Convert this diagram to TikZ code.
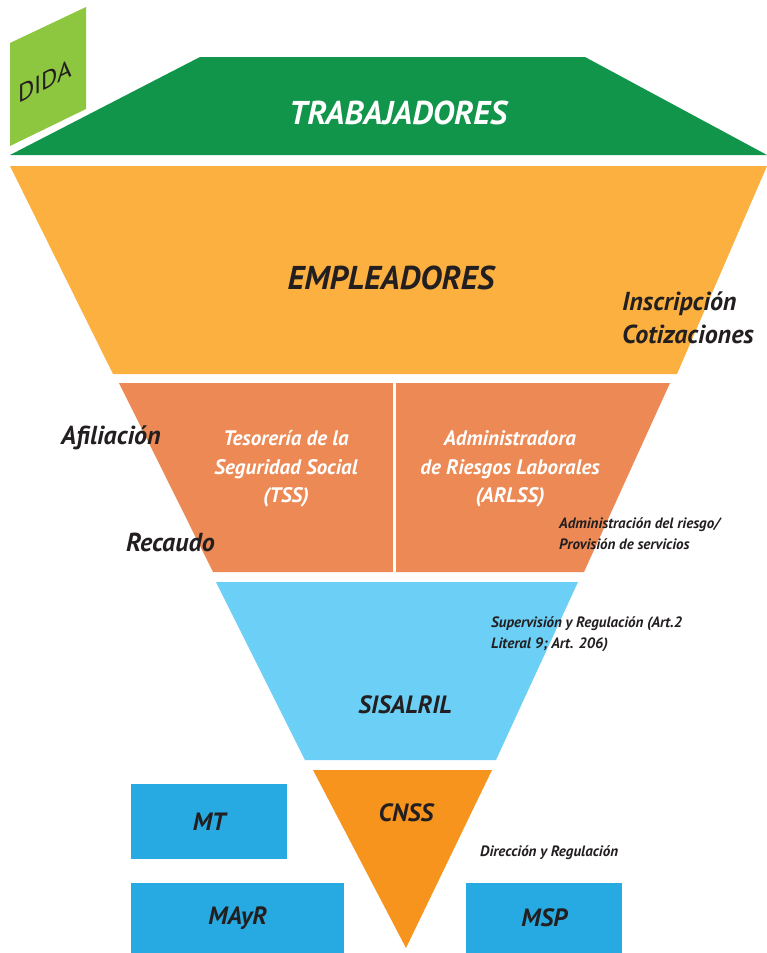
\documentclass[tikz,border=0pt]{standalone}
\usepackage{fontspec}
\setmainfont{PT Sans}
\definecolor{didagreen}{HTML}{8DC63F}
\definecolor{trabgreen}{HTML}{10954A}
\definecolor{emplyellow}{HTML}{FBB040}
\definecolor{tssorange}{HTML}{EC8954}
\definecolor{sisablue}{HTML}{6CCFF6}
\definecolor{cnssorange}{HTML}{F7941D}
\definecolor{boxblue}{HTML}{27AAE1}
\definecolor{inkdark}{HTML}{231F20}

\tikzstyle{layer}=[draw=none]
\tikzstyle{bigtitle}=[font=\bfseries\itshape\fontsize{33}{36}\selectfont, inner sep=0pt]
\tikzstyle{midtitle}=[font=\bfseries\itshape\fontsize{25}{28}\selectfont, text=inkdark, inner sep=0pt]
\tikzstyle{body}=[font=\bfseries\itshape\fontsize{21}{28.5}\selectfont, text=white, align=center, inner sep=0pt]
\tikzstyle{sidelabel}=[font=\bfseries\itshape\fontsize{26}{33}\selectfont, text=inkdark, anchor=west, align=left, inner sep=0pt]
\tikzstyle{note}=[font=\bfseries\itshape\fontsize{15}{21}\selectfont, text=inkdark, anchor=west, align=left, inner sep=0pt]

\begin{document}
\begin{tikzpicture}[x=1pt, y=-1pt]
    \useasboundingbox (0,0) rectangle (767,953);
    % First we draw the layers of the funnel
    \fill[layer, didagreen] (10,43) -- (86,7) -- (86,109) -- (10,146) -- cycle;
    \fill[layer, trabgreen] (200,57) -- (585,57) -- (767,155) -- (10,155) -- cycle;
    \fill[layer, emplyellow] (10,166) -- (767,166) -- (677,374) -- (113,374) -- cycle;
    \fill[layer, tssorange] (119,383) -- (670,383) -- (584,572) -- (213,572) -- cycle;
    \fill[white] (392.5,383) rectangle (395.5,572);
    \fill[layer, sisablue] (216,582) -- (578,582) -- (496,760) -- (305,760) -- cycle;
    \fill[layer, cnssorange] (313,770) -- (492,770) -- (406,948) -- cycle;
    % Ministries as plain boxes
    \foreach \x/\y/\w/\h/\name/\label in {131/784/156/75/mt/MT, 131/883/213/70/mayr/MAyR, 466/883/156/70/msp/MSP}
        \node[fill=boxblue, minimum width=\w pt, minimum height=\h pt, anchor=north west, inner sep=0pt,
              font=\bfseries\itshape\fontsize{25}{28}\selectfont, text=inkdark] (\name) at (\x,\y) {\label};
    % Titles inside the layers
    \node[bigtitle, text=white] (trab) at (398,113) {TRABAJADORES};
    \node[bigtitle, text=inkdark] (empl) at (391,278) {EMPLEADORES};
    \node[font=\fontsize{25}{27}\selectfont, text=inkdark, yslant=0.5, transform shape, inner sep=0pt] (dida) at (45,81) {DIDA};
    \node[body] (tss) at (286,469) {Tesorería de la\\Seguridad Social\\(TSS)};
    \node[body] (arlss) at (510,469) {Administradora\\de Riesgos Laborales\\(ARLSS)};
    \node[midtitle] (sisalril) at (405,705) {SISALRIL};
    \node[midtitle] (cnss) at (406,813) {CNSS};
    % Functions written beside the funnel
    \node[sidelabel] (insc) at (622,318) {Inscripción\\Cotizaciones};
    \node[sidelabel] (afil) at (61,438) {Afiliación};
    \node[sidelabel] (reca) at (126,542) {Recaudo};
    \node[note] (admin) at (559,534) {Administración del riesgo/\\Provisión de servicios};
    \node[note] (superv) at (491,634) {Supervisión y Regulación (Art.2\\Literal 9; Art. 206)};
    \node[note] (direc) at (480,853) {Dirección y Regulación};
\end{tikzpicture}
\end{document}
